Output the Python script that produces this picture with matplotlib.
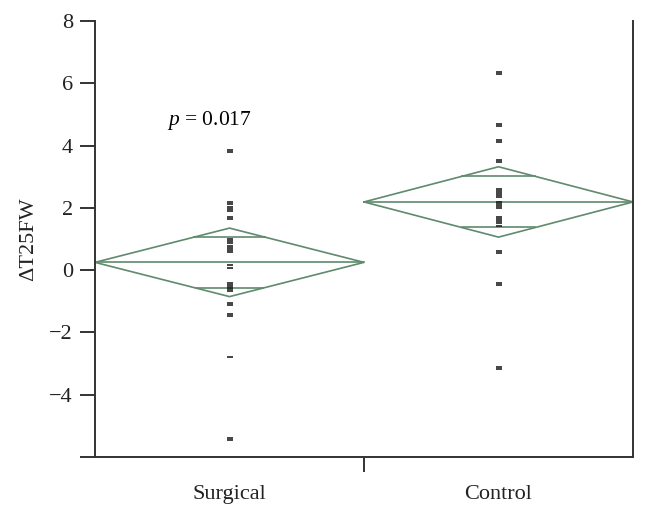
import numpy as np
import matplotlib
matplotlib.use("Agg")
import matplotlib.pyplot as plt

# ---- data --------------------------------------------------------------
groups = ["Surgical", "Control"]

surgical = [3.86, 3.79, 2.18, 2.11, 2.04, 1.97, 1.90, 1.70, 1.63,
            1.00, 0.93, 0.86, 0.79, 0.72, 0.65, 0.58, 0.15, 0.08,
            -0.40, -0.47, -0.54, -0.61, -0.68, -1.04, -1.11, -1.41, -1.48,
            -2.78, -5.40, -5.47]
control = [6.37, 6.30, 4.70, 4.63, 4.17, 4.10, 3.53, 3.46, 2.62, 2.55,
           2.48, 2.41, 2.34, 2.20, 2.13, 2.06, 1.99, 1.71, 1.64, 1.57,
           1.50, 1.43, 0.61, 0.54, -0.41, -0.48, -3.12, -3.19]

means = [0.25, 2.19]
ci_low = [-0.85, 1.06]
ci_high = [1.35, 3.32]
overlap_low = [-0.58, 1.37]
overlap_high = [1.06, 3.01]

p_text = "$p$ = 0.017"
ylabel = "\u0394T25FW"
yticks = [-4, -2, 0, 2, 4, 6, 8]

DIAMOND = "#5f8a6c"
SERIF = ["Liberation Serif", "DejaVu Serif"]

plt.rcParams["font.family"] = SERIF
plt.rcParams["mathtext.fontset"] = "custom"
plt.rcParams["mathtext.it"] = "Liberation Serif:italic"
plt.rcParams["mathtext.rm"] = "Liberation Serif"

fig = plt.figure(figsize=(6.48, 5.15), dpi=100)
ax = fig.add_axes([95 / 648, 1 - 457 / 515, (633 - 95) / 648, (457 - 21) / 515])

# each group occupies half the x range; diamonds span the whole group
for i, (pts, m, lo, hi, olo, ohi) in enumerate(
        zip([surgical, control], means, ci_low, ci_high, overlap_low, overlap_high)):
    left, right, centre = i, i + 1, i + 0.5
    half = 0.5
    ax.plot([left, centre, right, centre, left], [m, hi, m, lo, m],
            color=DIAMOND, lw=1.2, solid_joinstyle="miter")
    ax.plot([left, right], [m, m], color=DIAMOND, lw=1.2)
    for ov, edge in ((ohi, hi), (olo, lo)):
        w = half * (1 - (ov - m) / (edge - m))
        ax.plot([centre - w, centre + w], [ov, ov], color=DIAMOND, lw=1.2)
    ax.scatter(np.full(len(pts), centre), pts, marker="_", s=22,
               color="#111111", linewidths=1.1, zorder=3)

ax.text(0.425, 4.82, p_text, ha="center", va="center", fontsize=15.5)

ax.set_xlim(0, 2)
ax.set_ylim(-6, 8)
ax.set_yticks([-6] + yticks)
ax.set_yticklabels([""] + [str(t).replace("-", "\u2212") for t in yticks])
ax.set_xticks([1])
ax.set_xticklabels([""])
ax.tick_params(axis="y", length=11, width=1.4, color="#333333",
               labelsize=16, pad=5, labelcolor="#222222")
ax.tick_params(axis="x", length=11, width=1.4, color="#333333")
for x, g in zip([0.5, 1.5], groups):
    ax.text(x, -0.085, g, transform=ax.get_xaxis_transform(),
            ha="center", va="center", fontsize=16, color="#222222")

ax.set_ylabel(ylabel, fontsize=16, color="#222222", labelpad=8)
ax.spines["top"].set_visible(False)
for s in ("left", "right", "bottom"):
    ax.spines[s].set_color("#333333")
    ax.spines[s].set_linewidth(1.4)

fig.savefig("out.png", dpi=100)
